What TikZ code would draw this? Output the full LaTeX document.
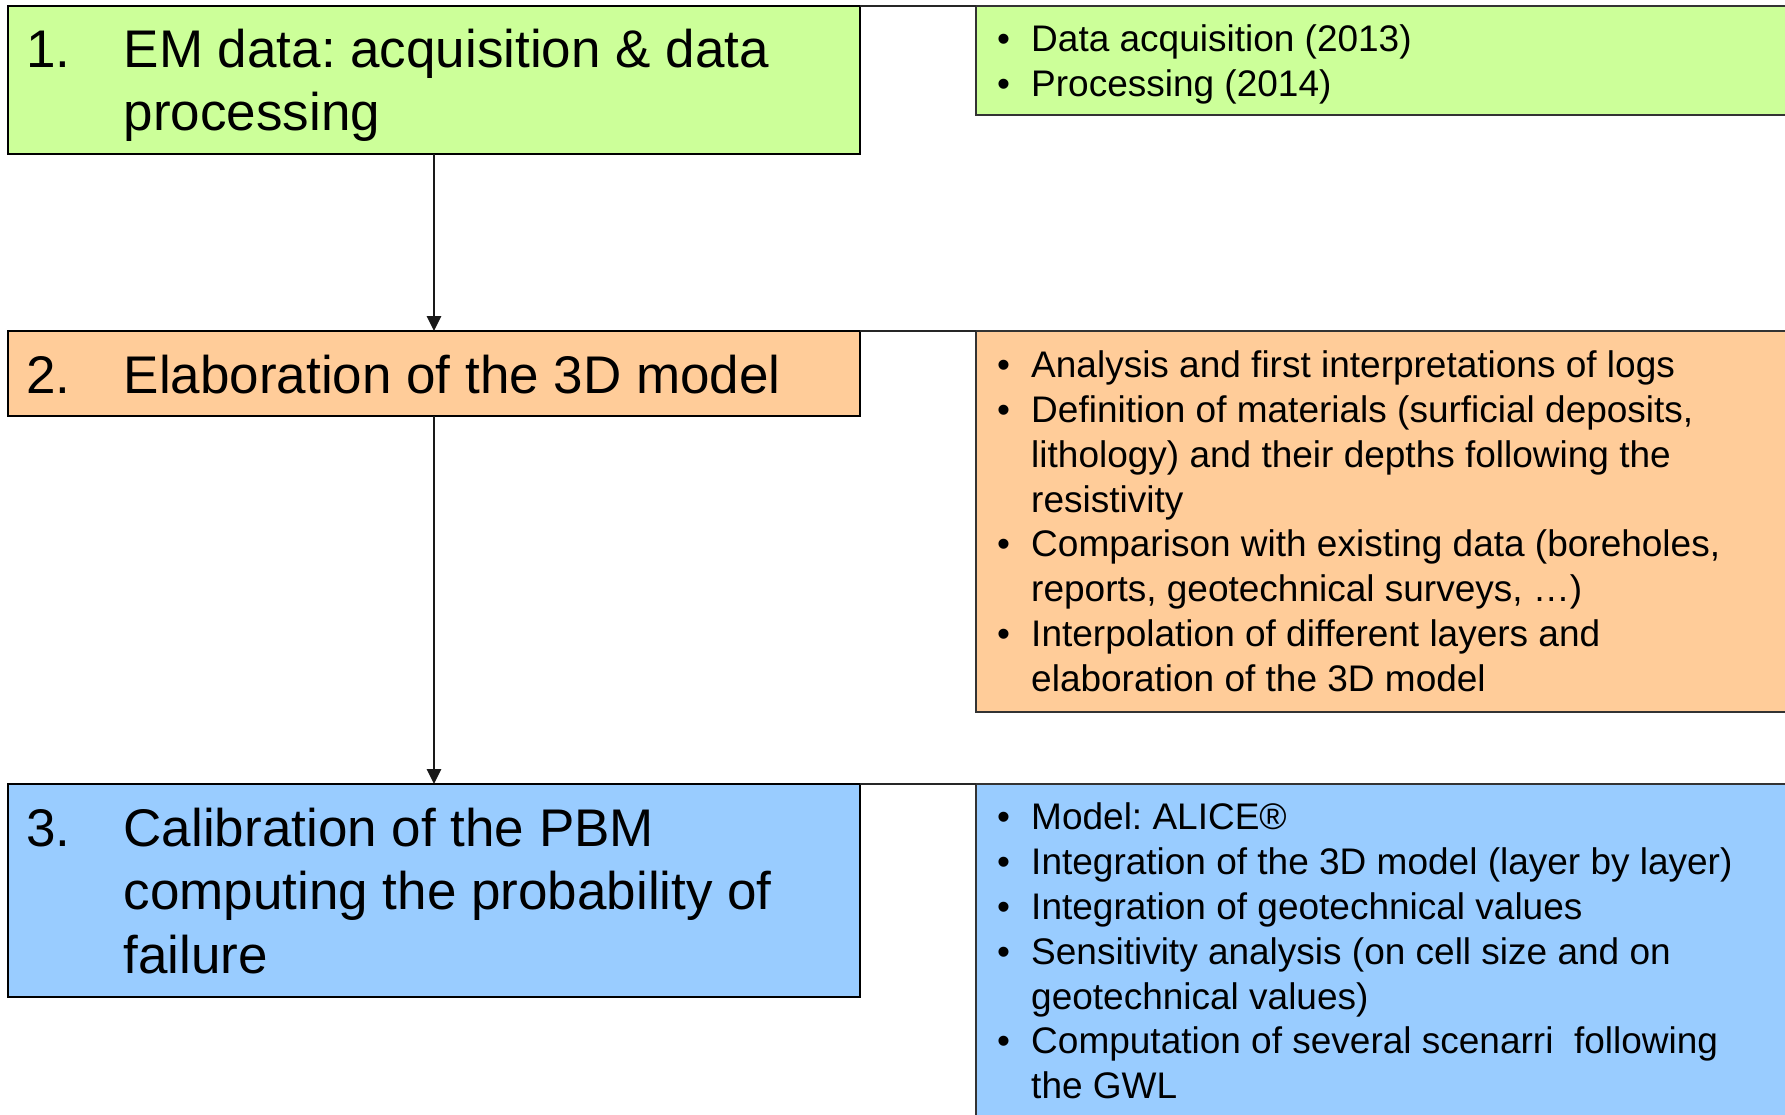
\documentclass[tikz,border=0pt]{standalone}
\usepackage{fontspec}
\setmainfont{Liberation Sans}
\usetikzlibrary{arrows.meta}
\definecolor{cgreen}{HTML}{CCFF99}
\definecolor{corange}{HTML}{FFCC99}
\definecolor{cblue}{HTML}{99CCFF}
\frenchspacing
\begin{document}
\begin{tikzpicture}[x=1pt,y=-1pt,
  leftbox/.style={draw=black,line width=2pt},
  rightbox/.style={draw=black!80,line width=1.2pt},
  joinline/.style={draw=black!85,line width=2pt},
  flowarrow/.style={draw=black!90,line width=2.8pt,-{Triangle[length=15pt,width=14pt]}},
  bigtxt/.style={inner sep=0pt,anchor=base west,font=\fontsize{53}{63}\selectfont},
  smalltxt/.style={inner sep=0pt,anchor=base west,font=\fontsize{37}{45}\selectfont}]
\useasboundingbox (0,0) rectangle (1785,1115);
\fill[white] (0,0) rectangle (1785,1115);
% boxes
\path[leftbox,fill=cgreen] (8,6) rectangle (860,154);
\path[leftbox,fill=corange] (8,331) rectangle (860,416);
\path[leftbox,fill=cblue] (8,784) rectangle (860,997);
\coordinate (b1s) at (434,154);
\coordinate (b2n) at (434,331);
\coordinate (b2s) at (434,416);
\coordinate (b3n) at (434,784);
\coordinate (b1ne) at (860,6);
\coordinate (b2ne) at (860,331);
\coordinate (b3ne) at (860,784);
\path[rightbox,fill=cgreen] (976,6) rectangle (1800,115);
\path[rightbox,fill=corange] (976,331) rectangle (1800,712);
\path[rightbox,fill=cblue] (976,784) rectangle (1800,1130);
\coordinate (r1nw) at (976,6);
\coordinate (r2nw) at (976,331);
\coordinate (r3nw) at (976,784);
% joins
\draw[joinline] (b1ne) -- (r1nw);
\draw[joinline] (b2ne) -- (r2nw);
\draw[joinline] (b3ne) -- (r3nw);
% arrows
\draw[flowarrow] (b1s) -- (b2n);
\draw[flowarrow] (b2s) -- (b3n);
% left texts
\node[bigtxt] (n1) at (26,68) {1.};
\node[bigtxt] (t1a) at (123.5,68) {EM data: acquisition \& data};
\node[bigtxt] (t1b) at (123.5,130.6) {processing};
\node[bigtxt] (n2) at (26,393) {2.};
\node[bigtxt] (t2a) at (123.5,393) {Elaboration of the 3D model};
\node[bigtxt] (n3) at (26,846) {3.};
\node[bigtxt] (t3a) at (123.5,846) {Calibration of the PBM};
\node[bigtxt] (t3b) at (123.5,909.7) {computing the probability of};
\node[bigtxt] (t3c) at (123.5,973.4) {failure};
% right texts
\newcommand{\bul}[3]{\node[smalltxt] (#1b) at (997,#2) {•}; \node[smalltxt] (#1) at (1031,#2) {#3};}
\newcommand{\cont}[3]{\node[smalltxt] (#1) at (1031,#2) {#3};}
\bul{g1}{51.7}{Data acquisition (2013)}
\bul{g2}{96.7}{Processing (2014)}
\bul{o1}{377.7}{Analysis and first interpretations of logs}
\bul{o2}{422.5}{Definition of materials (surficial deposits,}
\cont{o3}{467.3}{lithology) and their depths following the}
\cont{o4}{512.1}{resistivity}
\bul{o5}{556.9}{Comparison with existing data (boreholes,}
\cont{o6}{601.7}{reports, geotechnical surveys, …)}
\bul{o7}{646.5}{Interpolation of different layers and}
\cont{o8}{691.3}{elaboration of the 3D model}
\bul{u1}{829.6}{Model: ALICE®}
\bul{u2}{874.45}{Integration of the 3D model (layer by layer)}
\bul{u3}{919.3}{Integration of geotechnical values}
\bul{u4}{964.15}{Sensitivity analysis (on cell size and on}
\cont{u5}{1009}{geotechnical values)}
\bul{u6}{1053.85}{Computation of several scenarri\ \ following}
\cont{u7}{1098.7}{the GWL}
\end{tikzpicture}
\end{document}
